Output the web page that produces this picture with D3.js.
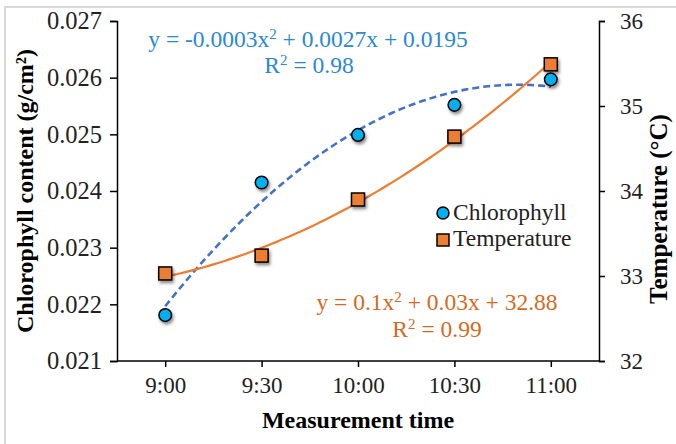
<!DOCTYPE html>
<html lang="en">
<head>
    <meta charset="UTF-8">
    <title>Chlorophyll and temperature</title>
    <style>
        body {
            margin: 0;
            background: #fff;
        }
    </style>
</head>
<body>
    <svg id="chart" width="676" height="444"></svg>

    <script src="https://d3js.org/d3.v7.min.js"></script>
    <script>
        // data
        const times = ["9:00", "9:30", "10:00", "10:30", "11:00"];
        const chlorophyll = [0.02181, 0.02415, 0.02499, 0.02552, 0.02597];
        const temperature = [33.03, 33.24, 33.90, 34.64, 35.49];
        const leftTicks = [0.021, 0.022, 0.023, 0.024, 0.025, 0.026, 0.027];
        const rightTicks = [32, 33, 34, 35, 36];

        const W = 676, H = 444;
        const plot = { left: 117, right: 599, top: 21, bottom: 361 };
        const FONT = "Liberation Serif, Times New Roman, serif";

        const svg = d3.select("#chart").attr("font-family", FONT);

        // drop shadow for the markers
        const defs = svg.append("defs");
        defs.append("filter")
            .attr("id", "shadow")
            .attr("x", "-50%").attr("y", "-50%")
            .attr("width", "200%").attr("height", "200%")
            .append("feDropShadow")
            .attr("dx", 1.5).attr("dy", 2.5)
            .attr("stdDeviation", 1.8)
            .attr("flood-color", "#000")
            .attr("flood-opacity", 0.45);

        // light frame of the figure (only left and top show)
        svg.append("path")
            .attr("d", `M5,${H} L5,7 L${W},7`)
            .attr("fill", "none")
            .attr("stroke", "#d9d9d9")
            .attr("stroke-width", 2);

        const x = d3.scalePoint()
            .domain(times)
            .range([plot.left, plot.right])
            .padding(0.5);

        const yL = d3.scaleLinear().domain([0.021, 0.027]).range([plot.bottom, plot.top]);
        const yR = d3.scaleLinear().domain([32, 36]).range([plot.bottom, plot.top]);

        // axes
        const axisLeft = svg.append("g")
            .attr("transform", `translate(${plot.left},0)`)
            .call(d3.axisLeft(yL).tickValues(leftTicks).tickFormat(d3.format(".3f")).tickSizeOuter(0).tickSize(7).tickPadding(8));

        const axisRight = svg.append("g")
            .attr("transform", `translate(${plot.right},0)`)
            .call(d3.axisRight(yR).tickValues(rightTicks).tickFormat(d3.format("d")).tickSizeOuter(0).tickSize(6).tickPadding(15));

        const axisBottom = svg.append("g")
            .attr("transform", `translate(0,${plot.bottom})`)
            .call(d3.axisBottom(x).tickSizeOuter(0).tickSize(6).tickPadding(10));

        // the bottom line runs the full plot width
        axisBottom.select(".domain").attr("d", `M${plot.left},0H${plot.right}`);

        [axisLeft, axisRight, axisBottom].forEach(g => {
            g.attr("font-family", FONT);
            g.selectAll(".domain, line").attr("stroke", "#000").attr("stroke-width", 1.5);
            g.selectAll("text").attr("font-size", 23).attr("fill", "#222");
        });
        axisLeft.selectAll("text").attr("font-size", 24.5);

        // axis titles
        svg.append("text")
            .attr("transform", `translate(33,191) rotate(-90)`)
            .attr("text-anchor", "middle")
            .attr("font-size", 24)
            .attr("font-weight", "bold")
            .text("Chlorophyll content (g/cm²)");

        svg.append("text")
            .attr("transform", `translate(667,209) rotate(-90)`)
            .attr("text-anchor", "middle")
            .attr("font-size", 25)
            .attr("font-weight", "bold")
            .text("Temperature (°C)");

        svg.append("text")
            .attr("x", (plot.left + plot.right) / 2)
            .attr("y", 428)
            .attr("text-anchor", "middle")
            .attr("font-size", 24)
            .attr("font-weight", "bold")
            .text("Measurement time");

        // least squares quadratic trendline, x = 1..n like the spreadsheet does
        function quadFit(vals) {
            let s = [0, 0, 0, 0, 0], t = [0, 0, 0];
            vals.forEach((v, i) => {
                const xi = i + 1;
                for (let k = 0; k < 5; k++) s[k] += Math.pow(xi, k);
                for (let k = 0; k < 3; k++) t[k] += v * Math.pow(xi, k);
            });
            // solve normal equations
            const A = [
                [s[0], s[1], s[2], t[0]],
                [s[1], s[2], s[3], t[1]],
                [s[2], s[3], s[4], t[2]]
            ];
            for (let i = 0; i < 3; i++) {
                for (let j = i + 1; j < 3; j++) {
                    const f = A[j][i] / A[i][i];
                    for (let k = i; k < 4; k++) A[j][k] -= f * A[i][k];
                }
            }
            const c = [0, 0, 0];
            for (let i = 2; i >= 0; i--) {
                let sum = A[i][3];
                for (let k = i + 1; k < 3; k++) sum -= A[i][k] * c[k];
                c[i] = sum / A[i][i];
            }
            return xi => c[0] + c[1] * xi + c[2] * xi * xi;
        }

        const step = x.step();
        const xAt = xi => x(times[0]) + (xi - 1) * step;
        const samples = d3.range(1, times.length + 0.001, 0.05);

        const fitC = quadFit(chlorophyll);
        const fitT = quadFit(temperature);

        svg.append("path")
            .datum(samples)
            .attr("fill", "none")
            .attr("stroke", "#4472c4")
            .attr("stroke-width", 2.6)
            .attr("stroke-dasharray", "7,4")
            .attr("d", d3.line().x(d => xAt(d)).y(d => yL(fitC(d))));

        svg.append("path")
            .datum(samples)
            .attr("fill", "none")
            .attr("stroke", "#ed7d31")
            .attr("stroke-width", 2.2)
            .attr("d", d3.line().x(d => xAt(d)).y(d => yR(fitT(d))));

        // markers
        svg.append("g")
            .attr("filter", "url(#shadow)")
            .selectAll("rect")
            .data(temperature)
            .join("rect")
            .attr("x", (d, i) => x(times[i]) - 6.5)
            .attr("y", d => yR(d) - 6.5)
            .attr("width", 13)
            .attr("height", 13)
            .attr("fill", "#ed7d31")
            .attr("stroke", "#000")
            .attr("stroke-width", 1.5);

        svg.append("g")
            .attr("filter", "url(#shadow)")
            .selectAll("circle")
            .data(chlorophyll)
            .join("circle")
            .attr("cx", (d, i) => x(times[i]))
            .attr("cy", d => yL(d))
            .attr("r", 6.3)
            .attr("fill", "#00b0f0")
            .attr("stroke", "#000")
            .attr("stroke-width", 1.5);

        // trendline equations
        const eqBlue = svg.append("g").attr("fill", "#2a88d4").attr("font-size", 23.5).attr("text-anchor", "middle");
        eqBlue.append("text").attr("x", 308).attr("y", 47)
            .html('y = -0.0003x<tspan dy="-8" font-size="15">2</tspan><tspan dy="8"> + 0.0027x + 0.0195</tspan>');
        eqBlue.append("text").attr("x", 309).attr("y", 73)
            .html('R<tspan dy="-8" font-size="15">2</tspan><tspan dy="8"> = 0.98</tspan>');

        const eqOrange = svg.append("g").attr("fill", "#d46a22").attr("font-size", 23.5).attr("text-anchor", "middle");
        eqOrange.append("text").attr("x", 437).attr("y", 310)
            .html('y = 0.1x<tspan dy="-8" font-size="15">2</tspan><tspan dy="8"> + 0.03x + 32.88</tspan>');
        eqOrange.append("text").attr("x", 437).attr("y", 337)
            .html('R<tspan dy="-8" font-size="15">2</tspan><tspan dy="8"> = 0.99</tspan>');

        // legend
        const legend = svg.append("g").attr("transform", "translate(443,213)");
        legend.append("circle").attr("r", 6).attr("fill", "#00b0f0").attr("stroke", "#000").attr("stroke-width", 1.5);
        legend.append("text").attr("x", 10).attr("y", 7).attr("font-size", 23.5).attr("fill", "#222").text("Chlorophyll");
        legend.append("rect").attr("x", -6).attr("y", 21).attr("width", 12).attr("height", 12)
            .attr("fill", "#ed7d31").attr("stroke", "#000").attr("stroke-width", 1.5);
        legend.append("text").attr("x", 10).attr("y", 33).attr("font-size", 23.5).attr("fill", "#222").text("Temperature");
    </script>
</body>
</html>
